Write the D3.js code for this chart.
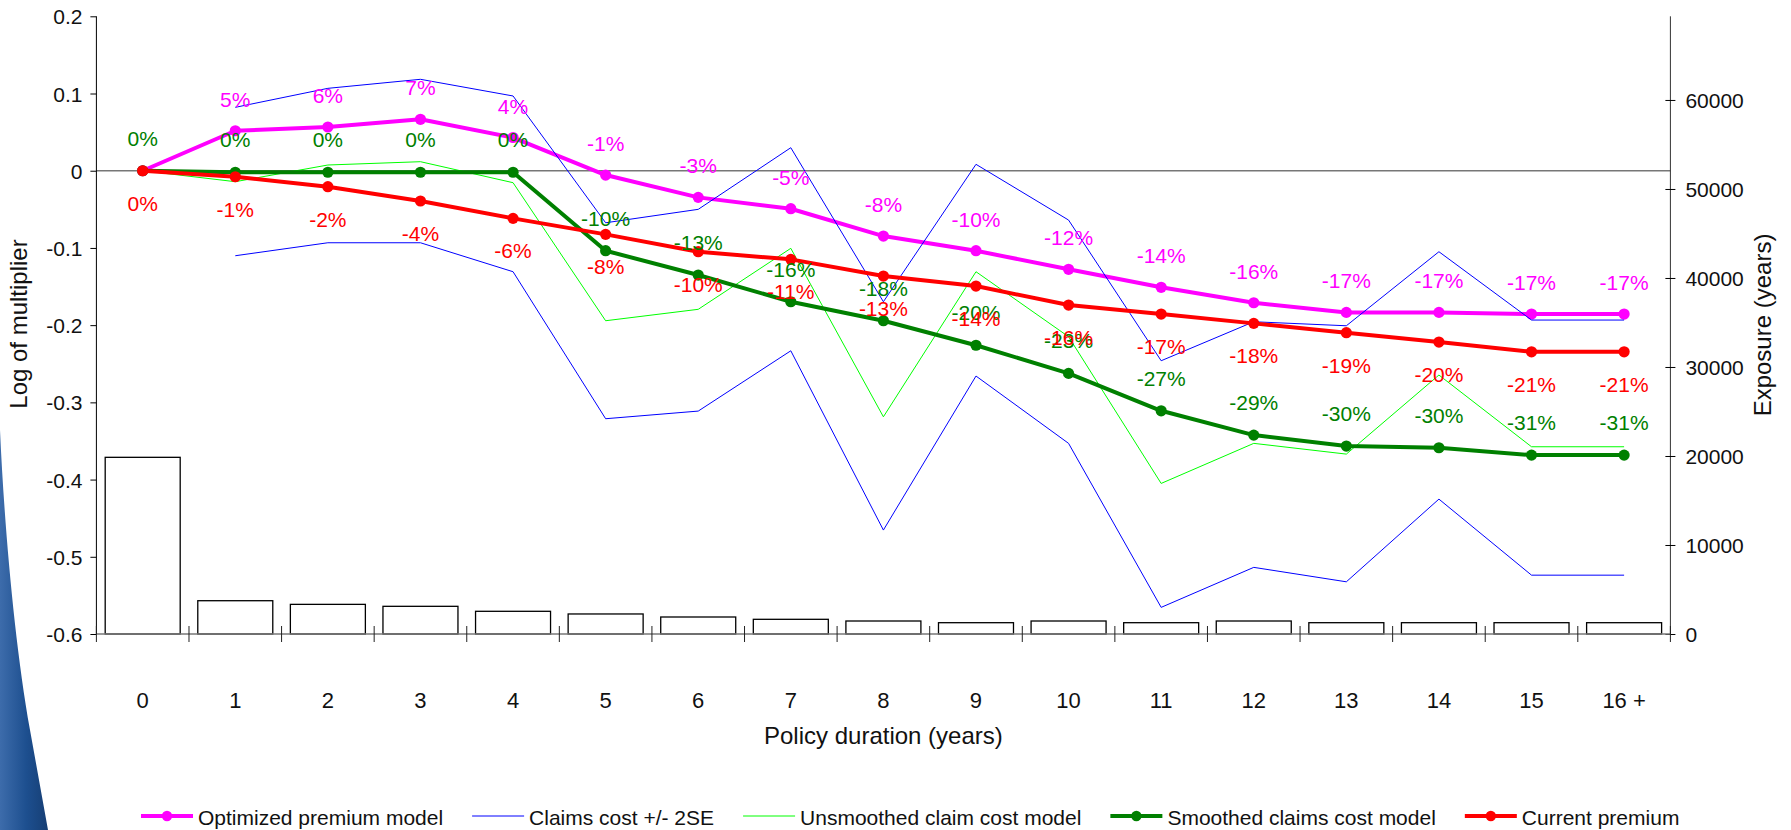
<!DOCTYPE html>
<html>
<head>
<meta charset="utf-8">
<script src="https://cdn.jsdelivr.net/npm/d3@7"></script>
<style>
  html, body { margin: 0; padding: 0; background: #fff; }
  svg { display: block; font-family: "Liberation Sans", Arial, sans-serif; }
</style>
</head>
<body>
<svg id="chart" width="1791" height="830"></svg>
<script>
// Policy duration categories
const categories = ["0","1","2","3","4","5","6","7","8","9","10","11","12","13","14","15","16 +"];

// Log of multiplier by duration
const optimizedPremium = [0, 0.0518, 0.0566, 0.0666, 0.043, -0.0056, -0.0345, -0.0492, -0.0846, -0.1036, -0.1277, -0.151, -0.171, -0.1835, -0.1835, -0.1856, -0.1856];
const claimsUpper = [null, 0.0821, 0.1067, 0.1184, 0.0968, -0.0674, -0.05, 0.0298, -0.1697, 0.0083, -0.0639, -0.2461, -0.1956, -0.2008, -0.1049, -0.1934, -0.1934];
const claimsLower = [null, -0.1101, -0.0933, -0.0933, -0.1308, -0.3212, -0.3113, -0.2332, -0.4654, -0.2659, -0.3531, -0.5655, -0.5137, -0.5324, -0.4253, -0.5238, -0.5238];
const unsmoothedClaims = [0, -0.0142, 0.0074, 0.0117, -0.0155, -0.1943, -0.1795, -0.1005, -0.3187, -0.1308, -0.215, -0.405, -0.3531, -0.367, -0.2646, -0.3575, -0.3575];
const smoothedClaims = [0, -0.002, -0.002, -0.002, -0.002, -0.1036, -0.1351, -0.1697, -0.1943, -0.226, -0.2625, -0.3109, -0.3424, -0.3566, -0.3588, -0.3683, -0.3683];
const currentPremium = [0, -0.0078, -0.0207, -0.0392, -0.0617, -0.0824, -0.1049, -0.1148, -0.1364, -0.1494, -0.174, -0.1856, -0.1977, -0.2098, -0.2219, -0.2345, -0.2345];

// Exposure (years) by duration
const exposure = [19850, 3740, 3330, 3110, 2550, 2250, 1910, 1650, 1460, 1270, 1460, 1270, 1460, 1270, 1270, 1270, 1270];

// Axis ticks
const leftTicks = [0.2, 0.1, 0, -0.1, -0.2, -0.3, -0.4, -0.5, -0.6];
const rightTicks = [0, 10000, 20000, 30000, 40000, 50000, 60000];

const svg = d3.select("#chart");
const plot = { left: 96.4, right: 1670.4, top: 16.3, bottom: 634 };
const FONT = 21;

// Decorative slide edge at the lower left
const defs = svg.append("defs");
const grad = defs.append("linearGradient").attr("id", "edge").attr("x1", 0).attr("y1", 0).attr("x2", 1).attr("y2", 0);
grad.append("stop").attr("offset", "0%").attr("stop-color", "#3d6cab");
grad.append("stop").attr("offset", "55%").attr("stop-color", "#1d4f8f");
grad.append("stop").attr("offset", "100%").attr("stop-color", "#163e74");
svg.append("path")
  .attr("d", "M0,430 C4,520 14,640 30,730 L48,830 L0,830 Z")
  .attr("fill", "url(#edge)");

const x = d3.scaleBand().domain(categories).range([plot.left, plot.right]);
const xBars = d3.scaleBand().domain(categories).range([plot.left, plot.right]).paddingInner(0.19).paddingOuter(0.095);
const yL = d3.scaleLinear().domain([-0.6, 0.2]).range([plot.bottom, plot.top]);
const yR = d3.scaleLinear().domain([0, 69400]).range([plot.bottom, plot.top]);
const cx = i => x(categories[i]) + x.bandwidth() / 2;

// Exposure bars
svg.append("g").selectAll("rect").data(exposure).join("rect")
  .attr("x", (d, i) => xBars(categories[i]))
  .attr("width", xBars.bandwidth())
  .attr("y", d => yR(d))
  .attr("height", d => yR(0) - yR(d))
  .attr("fill", "#fff")
  .attr("stroke", "#000")
  .attr("stroke-width", 1.3);

// Zero reference line
svg.append("line")
  .attr("x1", plot.left).attr("x2", plot.right)
  .attr("y1", yL(0)).attr("y2", yL(0))
  .attr("stroke", "#777").attr("stroke-width", 1.5);

// Left axis
const gL = svg.append("g").attr("transform", `translate(${plot.left},0)`)
  .call(d3.axisLeft(yL).tickValues(leftTicks).tickSize(6).tickPadding(8).tickFormat(d => d === 0 ? "0" : d3.format(".1f")(d).replace("−", "-")));
gL.select(".domain").attr("stroke", "#000").attr("d", `M0,${plot.top}V${plot.bottom}`);
gL.selectAll("text").attr("font-size", FONT).attr("font-family", "Liberation Sans, Arial, sans-serif").attr("fill", "#111").attr("dy", "0.36em");

// Right axis
const gR = svg.append("g").attr("transform", `translate(${plot.right},0)`)
  .call(d3.axisRight(yR).tickValues(rightTicks).tickSize(5).tickPadding(10).tickFormat(d3.format("d")));
gR.select(".domain").attr("stroke", "#333").attr("d", `M0,${plot.top}V${plot.bottom}`);
gR.selectAll(".tick line").attr("x1", -5).attr("x2", 5);
gR.selectAll("text").attr("font-size", FONT).attr("font-family", "Liberation Sans, Arial, sans-serif").attr("fill", "#111").attr("dy", "0.38em");

// Bottom category axis: tick marks between categories, labels centred
const gB = svg.append("g");
gB.append("line").attr("x1", plot.left).attr("x2", plot.right).attr("y1", plot.bottom).attr("y2", plot.bottom)
  .attr("stroke", "#777").attr("stroke-width", 1.5);
const boundaries = d3.range(categories.length + 1).map(i => plot.left + i * x.step());
gB.selectAll("line.tk").data(boundaries).join("line").attr("class", "tk")
  .attr("x1", d => d).attr("x2", d => d).attr("y1", plot.bottom - 8).attr("y2", plot.bottom + 8)
  .attr("stroke", "#222").attr("stroke-width", 1);
gB.selectAll("text").data(categories).join("text")
  .attr("x", (d, i) => cx(i)).attr("y", 708)
  .attr("text-anchor", "middle").attr("font-size", 22).attr("fill", "#111").text(d => d);

// Axis titles
svg.append("text").attr("x", 883.4).attr("y", 744).attr("text-anchor", "middle")
  .attr("font-size", 24).attr("fill", "#111").text("Policy duration (years)");
svg.append("text").attr("transform", "translate(27,324) rotate(-90)").attr("text-anchor", "middle")
  .attr("font-size", 24).attr("fill", "#111").text("Log of multiplier");
svg.append("text").attr("transform", "translate(1771,325) rotate(-90)").attr("text-anchor", "middle")
  .attr("font-size", 24).attr("fill", "#111").text("Exposure (years)");

const line = d3.line().defined(d => d != null).x((d, i) => cx(i)).y(d => yL(d));

function drawLine(values, color, width) {
  svg.append("path").datum(values).attr("d", line)
    .attr("fill", "none").attr("stroke", color).attr("stroke-width", width)
    .attr("stroke-linejoin", "round");
}
function drawMarkers(values, color) {
  svg.append("g").selectAll("circle").data(values).join("circle")
    .attr("cx", (d, i) => cx(i)).attr("cy", d => yL(d)).attr("r", 5.6).attr("fill", color);
}
const pct = v => `${Math.round((Math.exp(v) - 1) * 100)}%`;
// firstIndex lets a series start its labels after a shared origin point
function drawLabels(values, color, offset, firstIndex = 0) {
  const items = values.map((v, i) => ({ v, i })).filter(d => d.i >= firstIndex);
  svg.append("g").selectAll("text").data(items).join("text")
    .attr("x", d => cx(d.i)).attr("y", d => yL(d.v) + offset)
    .attr("text-anchor", "middle").attr("font-size", FONT).attr("fill", color)
    .text(d => pct(d.v));
}

// Series lines
drawLine(optimizedPremium, "#ff00ff", 4);
drawMarkers(optimizedPremium, "#ff00ff");
drawLine(claimsUpper, "#0000ff", 1);
drawLine(claimsLower, "#0000ff", 1);
drawLine(unsmoothedClaims, "#00ff00", 1);
drawLine(smoothedClaims, "#008000", 4);
drawMarkers(smoothedClaims, "#008000");
drawLine(currentPremium, "#ff0000", 4);
drawMarkers(currentPremium, "#ff0000");

// Data labels (percentage change implied by each log multiplier)
drawLabels(optimizedPremium, "#ff00ff", -24, 1);
drawLabels(smoothedClaims, "#008000", -25);
drawLabels(currentPremium, "#ff0000", 40);

// Legend
const legendItems = [
  { name: "Optimized premium model", color: "#ff00ff", width: 4, marker: true },
  { name: "Claims cost +/- 2SE", color: "#0000ff", width: 1, marker: false },
  { name: "Unsmoothed claim cost model", color: "#00ff00", width: 1, marker: false },
  { name: "Smoothed claims cost model", color: "#008000", width: 4, marker: true },
  { name: "Current premium", color: "#ff0000", width: 4, marker: true }
];
const lg = svg.append("g");
let lx = 141;
const ly = 816;
legendItems.forEach(item => {
  lg.append("line").attr("x1", lx).attr("x2", lx + 52).attr("y1", ly).attr("y2", ly)
    .attr("stroke", item.color).attr("stroke-width", item.width);
  if (item.marker) lg.append("circle").attr("cx", lx + 26).attr("cy", ly).attr("r", 5.2).attr("fill", item.color);
  const t = lg.append("text").attr("x", lx + 57).attr("y", 825).attr("font-size", FONT).attr("fill", "#111").text(item.name);
  lx = lx + 57 + t.node().getComputedTextLength() + 29;
});
</script>
</body>
</html>
